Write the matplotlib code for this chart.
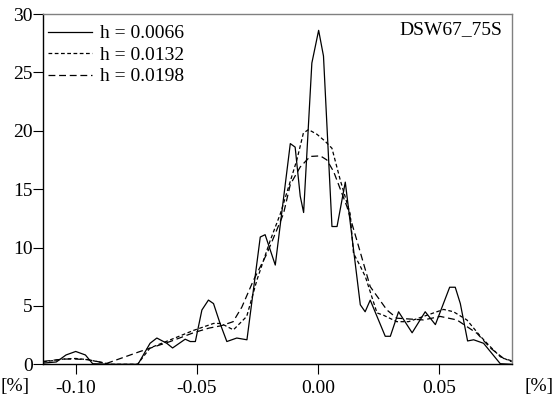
import matplotlib
matplotlib.use("Agg")
import matplotlib.pyplot as plt
from matplotlib import font_manager as fm

names = sorted({f.name for f in fm.fontManager.ttflist})
serif = None
for cand in ['Liberation Serif', 'Times New Roman', 'Nimbus Roman', 'DejaVu Serif']:
    if cand in names:
        serif = cand
        break
plt.rcParams['font.family'] = [serif, 'DejaVu Serif']

# h = 0.0066 (solid)
x1 = [-0.1135, -0.108, -0.104, -0.100, -0.096, -0.093, -0.085, -0.0743, -0.0693, -0.0665,
      -0.0624, -0.060, -0.0548, -0.0527, -0.0506, -0.0479, -0.0452, -0.0431, -0.0404, -0.0376,
      -0.0335, -0.0293, -0.0238, -0.0218, -0.0176, -0.0114, -0.0094, -0.0073, -0.0059, -0.0025,
      0.0003, 0.0023, 0.0058, 0.0079, 0.0113, 0.0175, 0.0195, 0.0216, 0.0278, 0.0299,
      0.0333, 0.0389, 0.0443, 0.0485, 0.0544, 0.0567, 0.0588, 0.0618, 0.0643, 0.0684,
      0.0753, 0.080]
y1 = [0.1, 0.2, 0.8, 1.1, 0.8, 0.05, 0.0, 0.0, 1.8, 2.25,
      1.8, 1.4, 2.15, 1.95, 1.95, 4.65, 5.5, 5.2, 3.5, 1.95,
      2.25, 2.1, 10.9, 11.1, 8.5, 18.9, 18.6, 14.4, 13.0, 25.8,
      28.6, 26.4, 11.8, 11.8, 15.6, 5.1, 4.5, 5.5, 2.4, 2.4,
      4.5, 2.7, 4.5, 3.4, 6.6, 6.6, 5.2, 2.0, 2.1, 1.8,
      0.05, 0.0]

# h = 0.0132 (short dash)
x2 = [-0.1135, -0.105, -0.100, -0.095, -0.0857, -0.0745, -0.0693, -0.0597, -0.0514, -0.0431,
      -0.040, -0.0349, -0.0294, -0.0252, -0.0197, -0.0155, -0.0087, -0.006, -0.0039, -0.0004,
      0.003, 0.0058, 0.0092, 0.0133, 0.0147, 0.0175, 0.0196, 0.0244, 0.0271, 0.0326,
      0.0374, 0.0436, 0.0519, 0.056, 0.0615, 0.0671, 0.0712, 0.0753, 0.080]
y2 = [0.2, 0.45, 0.5, 0.4, 0.0, 0.0, 1.4, 2.2, 2.9, 3.5,
      3.5, 2.95, 4.1, 7.2, 10.6, 12.9, 17.5, 19.8, 20.1, 19.7,
      19.1, 18.5, 15.8, 12.9, 9.5, 8.4, 7.5, 4.4, 4.2, 3.65,
      3.65, 4.1, 4.7, 4.5, 3.8, 2.4, 1.5, 0.65, 0.22]

# h = 0.0198 (long dash)
x3 = [-0.1135, -0.105, -0.100, -0.095, -0.0872, -0.0734, -0.061, -0.0514, -0.045, -0.040,
      -0.035, -0.0314, -0.0266, -0.021, -0.0142, -0.0114, -0.0073, -0.0032, 0.001, 0.0037,
      0.0065, 0.012, 0.0161, 0.0216, 0.0285, 0.0326, 0.0436, 0.0505, 0.0574, 0.0657,
      0.0712, 0.0767, 0.080]
y3 = [0.25, 0.45, 0.45, 0.4, 0.08, 1.1, 1.95, 2.7, 3.1, 3.3,
      3.65, 4.9, 7.2, 9.5, 12.9, 15.4, 16.9, 17.8, 17.85, 17.5,
      16.5, 13.5, 10.6, 6.65, 4.65, 3.95, 3.8, 4.1, 3.8, 2.65,
      1.4, 0.5, 0.3]

labels = ['h = 0.0066', 'h = 0.0132', 'h = 0.0198']
xticks = [-0.10, -0.05, 0.00, 0.05]
xticklabels = ['-0.10', '-0.05', '0.00', '0.05']
yticks = [0, 5, 10, 15, 20, 25, 30]

FS = 14

fig = plt.figure(figsize=(5.6, 4.07), dpi=100)
ax = fig.add_axes([0.0768, 0.1049, 0.8369, 0.8607])

ax.plot(x1, y1, color='black', lw=0.9, ls='-', label=labels[0])
ax.plot(x2, y2, color='black', lw=0.9, ls=(0, (3, 2)), label=labels[1])
ax.plot(x3, y3, color='black', lw=0.9, ls=(0, (5.5, 3)), label=labels[2])

ax.set_xlim(-0.1135, 0.080)
ax.set_ylim(0, 30)
ax.set_xticks(xticks)
ax.set_xticklabels(xticklabels)
ax.set_yticks(yticks)
ax.tick_params(direction='out', length=7, width=0.8, labelsize=FS, color='black', pad=0.5)
ax.tick_params(axis='x', pad=4)

for s in ['top', 'right']:
    ax.spines[s].set_color('#808080')
    ax.spines[s].set_linewidth(1.0)
for s in ['left', 'bottom']:
    ax.spines[s].set_color('black')
    ax.spines[s].set_linewidth(1.0)

leg = ax.legend(loc='upper left', frameon=False, fontsize=FS, handlelength=2.26,
                handletextpad=0.42, borderpad=0.0, borderaxespad=0.25, labelspacing=0.2,
                bbox_to_anchor=(0.0, 0.983))

ax.text(0.98, 0.955, 'DSW67_75S', transform=ax.transAxes, ha='right', va='center', fontsize=FS)

fig.text(1 / 560, 1 - 386 / 407, '[%]', ha='left', va='center', fontsize=FS)
fig.text(539 / 560, 1 - 386 / 407, '[%]', ha='center', va='center', fontsize=FS)

fig.savefig('out.png', dpi=100)
